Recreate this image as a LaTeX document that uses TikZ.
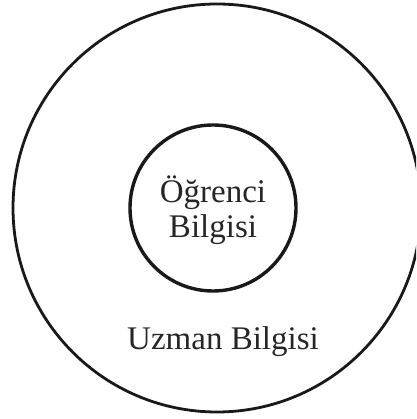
\documentclass[tikz,border=0pt]{standalone}
\usepackage{fontspec}
\setmainfont{Liberation Serif}
\usetikzlibrary{positioning}

\begin{document}
\begin{tikzpicture}[
    x=1pt, y=1pt,
    ring/.style={
            circle,
            draw=black!90,
            inner sep=0pt
        },
    label_text/.style={
            font=\fontsize{33}{35}\selectfont,
            text=black!85,
            align=center,
            inner sep=0pt
        },
    ]

    % --- Canvas ---
    \useasboundingbox (0,0) rectangle (416,419);
    \clip (0,0) rectangle (416,419);

    % --- Circles ---
    \node (uzman) [ring, line width=2.8pt, minimum size=408pt] at (217,211) {};
    \node (ogrenci) [ring, line width=3.4pt, minimum size=166pt] at (213,211) {};

    % --- Labels ---
    \node (ogrenci_text) [label_text, yshift=-2pt] at (ogrenci.center) {Öğrenci\\Bilgisi};
    \node (uzman_text) [label_text, anchor=base] at (223,69) {Uzman Bilgisi};

\end{tikzpicture}
\end{document}
